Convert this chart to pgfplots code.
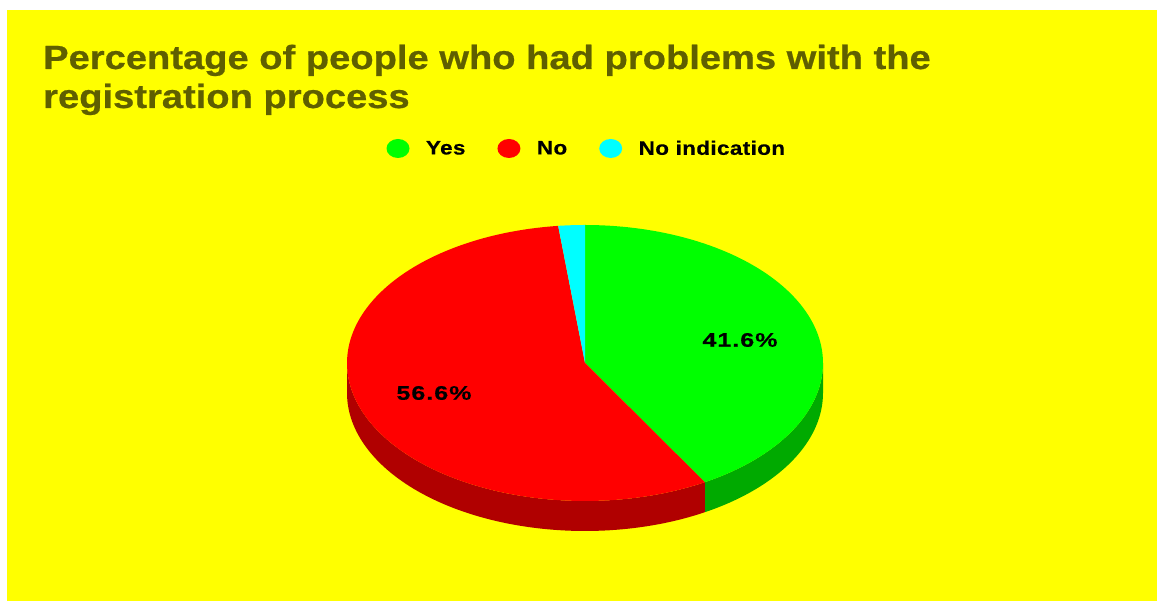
\documentclass[border=0pt]{standalone}
\usepackage{fontspec}
\usepackage{pgfplots}
\pgfplotsset{compat=1.18}
\usepgfplotslibrary{fillbetween}
\setmainfont{Liberation Sans}
\newfontfamily\titlefont{Liberation Sans}[FakeStretch=1.138,FakeBold=0.6]
\newfontfamily\legfont{Liberation Sans}[FakeStretch=1.15,LetterSpace=2,FakeBold=0.4]
\newfontfamily\labfont{Liberation Sans}[FakeStretch=1.28,LetterSpace=5,FakeBold=0.4]
\definecolor{bgyellow}{RGB}{255,255,0}
\definecolor{pgreen}{RGB}{0,255,0}
\definecolor{dgreen}{RGB}{0,170,0}
\definecolor{pred}{RGB}{255,0,0}
\definecolor{dred}{RGB}{176,0,0}
\definecolor{pcyan}{RGB}{0,255,255}
\definecolor{titlecol}{RGB}{95,95,0}
% data (percent)
\def\valYes{41.6}
\def\valNo{56.6}
\def\valNoInd{1.8}
% pie geometry (in axis units)
\def\cx{585}\def\cy{238}\def\rx{238}\def\ry{138}\def\dep{30}
\pgfmathsetmacro\aA{90}
\pgfmathsetmacro\aB{90-3.6*\valYes}
\pgfmathsetmacro\aC{\aB-3.6*\valNo}
\pgfmathsetmacro\aD{\aC-3.6*\valNoInd}
\pgfmathsetmacro\aBp{\aB+360}
\begin{document}
\begin{tikzpicture}
\begin{axis}[
  width=1157pt, height=601pt, scale only axis,
  xmin=0, xmax=1157, ymin=0, ymax=601,
  hide axis, clip=false,
  fill between/on layer=main,
  legend image code/.code={\fill[#1, draw=none] (11.5pt,0pt) ellipse [x radius=11.5pt, y radius=9.5pt];},
  legend style={at={(axis cs:386.5,452.5)}, anchor=west, draw=none, fill=none,
    inner sep=0pt, outer sep=0pt,
    font=\legfont\bfseries\fontsize{19.5}{22}\selectfont,
    legend columns=-1,
    nodes={inner sep=0pt},
    /tikz/every odd column/.append style={column sep=16.5pt},
    /tikz/every even column/.append style={column sep=32pt}},
]
\fill[white] (axis cs:0,0) rectangle (axis cs:1157,601);
\fill[bgyellow] (axis cs:7,0) rectangle (axis cs:1157,591);
% sides
\addplot[name path=yt, draw=none, forget plot, domain=\aB:0, samples=60, variable=\t]
  ({\cx+\rx*cos(\t)}, {\cy+\ry*sin(\t)});
\addplot[name path=yb, draw=none, forget plot, domain=\aB:0, samples=60, variable=\t]
  ({\cx+\rx*cos(\t)}, {\cy-\dep+\ry*sin(\t)});
\addplot[dgreen, forget plot] fill between[of=yt and yb];
\addplot[name path=nt, draw=none, forget plot, domain=180:\aBp, samples=80, variable=\t]
  ({\cx+\rx*cos(\t)}, {\cy+\ry*sin(\t)});
\addplot[name path=nb, draw=none, forget plot, domain=180:\aBp, samples=80, variable=\t]
  ({\cx+\rx*cos(\t)}, {\cy-\dep+\ry*sin(\t)});
\addplot[dred, forget plot] fill between[of=nt and nb];
% top sectors
\addplot[fill=pgreen, draw=none, forget plot, domain=\aB:\aA, samples=100, variable=\t]
  ({\cx+\rx*cos(\t)}, {\cy+\ry*sin(\t)}) -- (axis cs:\cx,\cy) -- cycle;
\addplot[fill=pred, draw=none, forget plot, domain=\aC:\aB, samples=120, variable=\t]
  ({\cx+\rx*cos(\t)}, {\cy+\ry*sin(\t)}) -- (axis cs:\cx,\cy) -- cycle;
\addplot[fill=pcyan, draw=none, forget plot, domain=\aD:\aC, samples=10, variable=\t]
  ({\cx+\rx*cos(\t)}, {\cy+\ry*sin(\t)}) -- (axis cs:\cx,\cy) -- cycle;
% legend
\addlegendimage{fill=pgreen}\addlegendentry{Yes}
\addlegendimage{fill=pred}\addlegendentry{No}
\addlegendimage{fill=pcyan}\addlegendentry{No indication}
% labels
\node[font=\labfont\bfseries\fontsize{19.6}{22}\selectfont, inner sep=0pt] at (axis cs:740,261) {41.6\%};
\node[font=\labfont\bfseries\fontsize{19.6}{22}\selectfont, inner sep=0pt] at (axis cs:434,208) {56.6\%};
% title
\node[anchor=base west, inner sep=0pt, text=titlecol, font=\titlefont\bfseries\fontsize{33.5}{40}\selectfont] at (axis cs:43,532) {Percentage of people who had problems with the};
\node[anchor=base west, inner sep=0pt, text=titlecol, font=\titlefont\bfseries\fontsize{33.5}{40}\selectfont] at (axis cs:43,493) {registration process};
\end{axis}
\end{tikzpicture}
\end{document}
